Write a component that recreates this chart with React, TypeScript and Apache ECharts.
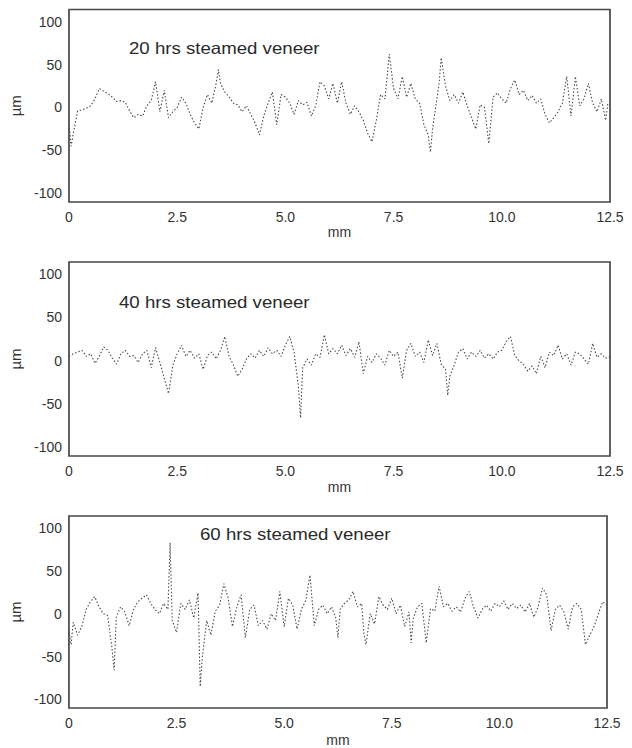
import React, { useEffect, useRef } from 'react';
import * as echarts from 'echarts';

const panelTitles = ['20 hrs steamed veneer', '40 hrs steamed veneer', '60 hrs steamed veneer'];
const xAxisName = 'mm';
const yAxisName = 'µm';
const yLabelValues = [-100, -50, 0, 50, 100];

const profile20: [number, number][] = [
  [0, -20], [0.05, -45], [0.1, -30], [0.2, -4], [0.3, -3], [0.4, -1], [0.5, 2], [0.6, 10], [0.7, 22], [0.8, 19],
  [0.9, 16], [1.0, 12], [1.1, 7], [1.2, 8], [1.3, 6], [1.4, -4], [1.5, -12], [1.6, -8], [1.7, -10], [1.8, 2],
  [1.9, 8], [2.0, 30], [2.1, -5], [2.2, 20], [2.3, -12], [2.4, -5], [2.5, 0], [2.6, 12], [2.7, 5], [2.8, -8],
  [2.9, -18], [3.0, -25], [3.1, 0], [3.2, 15], [3.3, 5], [3.4, 28], [3.45, 44], [3.5, 28], [3.6, 18], [3.7, 12],
  [3.8, 5], [3.9, 3], [4.0, -5], [4.1, 2], [4.2, -8], [4.3, -18], [4.4, -32], [4.5, -10], [4.6, 5], [4.7, 18],
  [4.8, -20], [4.9, 15], [5.0, 12], [5.1, 5], [5.2, -8], [5.3, 8], [5.4, 3], [5.5, 6], [5.6, -10], [5.7, 2],
  [5.8, 30], [5.9, 25], [6.0, 10], [6.1, 28], [6.2, 5], [6.3, 30], [6.4, 5], [6.5, -8], [6.6, 2], [6.7, -5],
  [6.8, -15], [6.9, -30], [7.0, -40], [7.1, -15], [7.2, 15], [7.3, 10], [7.4, 62], [7.5, 22], [7.6, 10], [7.7, 36],
  [7.8, 12], [7.9, 28], [8.0, 10], [8.1, 5], [8.2, -20], [8.3, -32], [8.35, -52], [8.4, -25], [8.5, 10], [8.55, 28],
  [8.6, 58], [8.7, 25], [8.8, 8], [8.9, 15], [9.0, 5], [9.1, 18], [9.2, 2], [9.3, -12], [9.4, -25], [9.5, 3],
  [9.6, 0], [9.7, -42], [9.8, 12], [9.9, 17], [10.0, 10], [10.1, 5], [10.2, 22], [10.3, 32], [10.4, 15], [10.5, 20],
  [10.6, 8], [10.7, 14], [10.8, 5], [10.9, 10], [11.0, -8], [11.1, -18], [11.2, -12], [11.3, -5], [11.4, 5], [11.5, 36],
  [11.6, -10], [11.7, 36], [11.8, 2], [11.9, 10], [12.0, 28], [12.1, 5], [12.2, -5], [12.3, 10], [12.4, -15], [12.45, 5],
];

const profile40: [number, number][] = [
  [0, 5], [0.1, 8], [0.2, 10], [0.3, 12], [0.4, 5], [0.5, 8], [0.6, -3], [0.7, 5], [0.8, 16], [0.9, 12],
  [1.0, 3], [1.1, -4], [1.2, 8], [1.3, 12], [1.4, 5], [1.5, 6], [1.6, -2], [1.7, 8], [1.8, 12], [1.9, -8],
  [2.0, 15], [2.1, -2], [2.2, -20], [2.3, -38], [2.4, -5], [2.5, 8], [2.6, 18], [2.7, 5], [2.8, 12], [2.9, 3],
  [3.0, 8], [3.1, -10], [3.2, 6], [3.3, 10], [3.4, 2], [3.5, 12], [3.6, 28], [3.7, 5], [3.8, -5], [3.9, -18],
  [4.0, -10], [4.1, 2], [4.2, 8], [4.3, 3], [4.4, 12], [4.5, 5], [4.6, 15], [4.7, 8], [4.8, 12], [4.9, 5],
  [5.0, 18], [5.1, 28], [5.2, 10], [5.3, -30], [5.35, -66], [5.4, -8], [5.5, 2], [5.6, -5], [5.7, 8], [5.8, 4],
  [5.9, 30], [6.0, 8], [6.1, 14], [6.2, 8], [6.3, 18], [6.4, 6], [6.5, 14], [6.6, 4], [6.7, 22], [6.8, -15],
  [6.9, 5], [7.0, -2], [7.1, 8], [7.2, 3], [7.3, -5], [7.4, 12], [7.5, 5], [7.6, 10], [7.7, -20], [7.8, 12],
  [7.9, 20], [8.0, 5], [8.1, 10], [8.2, -2], [8.3, 24], [8.4, 6], [8.5, 20], [8.6, -4], [8.7, -10], [8.75, -40],
  [8.8, -18], [8.9, -5], [9.0, 10], [9.1, 14], [9.2, 2], [9.3, 10], [9.4, 5], [9.5, 12], [9.6, 3], [9.7, 8],
  [9.8, 2], [9.9, 10], [10.0, 12], [10.1, 22], [10.2, 28], [10.3, 6], [10.4, 0], [10.5, -4], [10.6, -12], [10.7, -6],
  [10.8, -15], [10.9, 5], [11.0, -8], [11.1, 10], [11.2, 6], [11.3, 18], [11.4, 2], [11.5, 8], [11.6, -5], [11.7, 10],
  [11.8, 8], [11.9, 2], [12.0, -4], [12.1, 20], [12.2, 4], [12.3, 8], [12.4, 3], [12.5, 5],
];

const profile60: [number, number][] = [
  [0, -20], [0.05, -36], [0.1, -10], [0.2, -25], [0.3, -15], [0.4, 5], [0.5, 14], [0.6, 20], [0.7, 8], [0.8, 0],
  [0.9, -2], [1.0, -40], [1.05, -66], [1.1, -4], [1.2, 8], [1.3, 2], [1.4, -14], [1.5, 5], [1.6, 14], [1.7, 18],
  [1.8, 22], [1.9, 12], [2.0, 5], [2.1, 0], [2.2, 12], [2.3, 5], [2.35, 83], [2.4, -8], [2.5, -22], [2.6, 12],
  [2.7, 5], [2.8, 16], [2.9, -5], [3.0, 24], [3.05, -85], [3.1, -50], [3.2, -8], [3.3, -25], [3.4, 3], [3.5, 10],
  [3.6, 35], [3.7, 18], [3.8, -15], [3.9, 8], [4.0, 22], [4.1, -28], [4.2, 5], [4.3, 10], [4.4, -14], [4.5, -8],
  [4.6, -18], [4.7, 0], [4.8, -8], [4.9, 26], [5.0, -15], [5.1, 18], [5.2, 10], [5.3, -18], [5.4, 5], [5.5, 15],
  [5.6, 45], [5.7, -14], [5.8, 5], [5.9, 10], [6.0, 0], [6.1, 8], [6.2, -5], [6.25, -28], [6.3, 5], [6.4, 12],
  [6.5, 16], [6.6, 26], [6.7, 8], [6.8, 12], [6.85, -22], [6.9, -36], [7.0, 0], [7.1, -12], [7.2, 20], [7.3, 10],
  [7.4, 5], [7.5, 18], [7.6, 0], [7.7, 10], [7.8, -15], [7.9, 2], [7.95, -34], [8.0, -5], [8.1, 8], [8.2, 12],
  [8.3, -34], [8.4, 6], [8.5, 3], [8.6, 32], [8.7, 8], [8.8, 12], [8.9, 3], [9.0, 8], [9.1, 2], [9.2, 18],
  [9.3, 26], [9.4, 8], [9.5, -5], [9.6, 5], [9.7, 10], [9.8, 3], [9.9, 12], [10.0, 8], [10.1, 15], [10.2, 5],
  [10.3, 12], [10.4, 6], [10.5, 10], [10.6, 2], [10.7, 12], [10.8, -4], [10.9, 8], [11.0, 30], [11.1, 22], [11.2, -20],
  [11.3, 5], [11.4, 10], [11.5, 2], [11.6, -18], [11.7, 8], [11.8, 12], [11.9, 5], [12.0, -36], [12.1, -25], [12.2, -15],
  [12.3, 0], [12.4, 14], [12.5, 10],
];

const profiles = [profile20, profile40, profile60];

const grids = [
  { left: 69, width: 541, top: 9.5, height: 192.5 },
  { left: 69, width: 541, top: 262, height: 194 },
  { left: 67, width: 540, top: 516, height: 194 },
];
const titlePos = [
  { x: 129, y: 48 },
  { x: 119, y: 302 },
  { x: 200, y: 534 },
];
const xNameGaps = [22, 24, 25];

const FONT = 'Liberation Sans, Arial, sans-serif';

export default function App() {
  const ref = useRef<HTMLDivElement>(null);
  useEffect(() => {
    if (!ref.current) return;
    const chart = echarts.init(ref.current, undefined, { renderer: 'svg' });
    const option: any = {
      animation: false,
      backgroundColor: '#ffffff',
      grid: grids.map((g) => ({
        ...g,
        show: true,
        borderColor: '#474747',
        borderWidth: 1.7,
        backgroundColor: 'transparent',
      })),
      xAxis: grids.map((_, i) => ({
        type: 'value',
        gridIndex: i,
        min: 0,
        max: 12.5,
        interval: 2.5,
        name: xAxisName,
        nameLocation: 'middle',
        nameGap: xNameGaps[i],
        nameTextStyle: { color: '#333', fontSize: 14, fontFamily: FONT },
        axisLine: { show: false },
        axisTick: { show: false },
        splitLine: { show: false },
        axisLabel: {
          color: '#333',
          fontSize: 14,
          fontFamily: FONT,
          margin: 8,
          formatter: (v: number) => (v === 0 ? '0' : v.toFixed(1)),
        },
      })),
      yAxis: grids.map((_, i) => ({
        type: 'value',
        gridIndex: i,
        min: -110,
        max: 114,
        interval: 10,
        name: yAxisName,
        nameLocation: 'middle',
        nameGap: 44,
        nameRotate: 90,
        nameTextStyle: { color: '#333', fontSize: 15, fontFamily: FONT },
        axisLine: { show: false },
        axisTick: { show: false },
        splitLine: { show: false },
        axisLabel: {
          color: '#333',
          fontSize: 14,
          fontFamily: FONT,
          margin: 7,
          formatter: (v: number) => (yLabelValues.includes(v) ? String(v) : ''),
        },
      })),
      series: profiles.map((p, i) => ({
        type: 'line',
        xAxisIndex: i,
        yAxisIndex: i,
        data: p,
        showSymbol: false,
        symbol: 'none',
        lineStyle: { color: '#4a4a4a', width: 1.1, type: [1.5, 2] },
      })),
      graphic: titlePos.map((t, i) => ({
        type: 'text',
        x: t.x,
        y: t.y,
        scaleX: 1.13,
        style: {
          text: panelTitles[i],
          fill: '#2a2a2a',
          fontSize: 16.5,
          fontFamily: FONT,
          textVerticalAlign: 'middle',
          verticalAlign: 'middle',
        },
      })),
    };
    chart.setOption(option);
    return () => chart.dispose();
  }, []);
  return (
    <div
      ref={ref}
      style={{ position: 'fixed', left: 0, top: 0, width: 632, height: 748 }}
    />
  );
}
